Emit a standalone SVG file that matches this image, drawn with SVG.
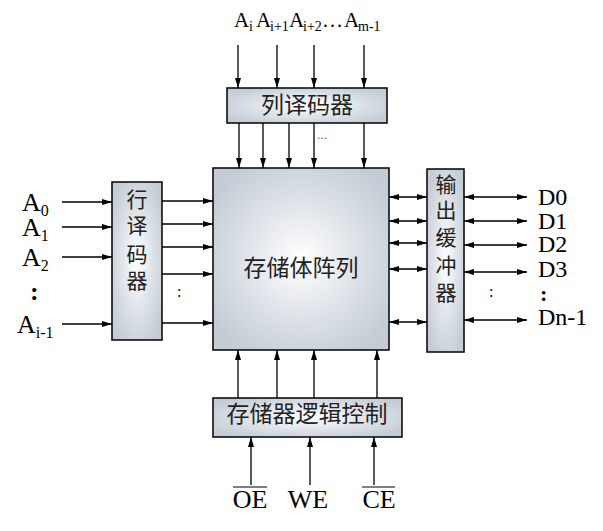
<svg xmlns="http://www.w3.org/2000/svg" width="603" height="531" viewBox="0 0 603 531">
<style>
.box{stroke:#000;stroke-width:1.5;fill:url(#g)}
.ln{stroke:#000;stroke-width:1.3;fill:none}
.a{marker-end:url(#ah)}
.b{marker-end:url(#ah);marker-start:url(#ah2)}
.cn{font-family:"Noto Sans CJK SC","Noto Sans CJK JP",serif;fill:#222;text-anchor:middle}
.lt{font-family:"Liberation Serif",serif;fill:#000}
.tA{font-family:"Liberation Serif",serif;font-size:21px;fill:#000}
.tS{font-family:"Liberation Serif",serif;font-size:14px;fill:#000}
.tD{font-family:"Liberation Serif",serif;font-size:24px;fill:#000}
</style>
<defs>
<radialGradient id="g" cx="0.5" cy="0.5" r="0.6">
<stop offset="0" stop-color="#ffffff"/>
<stop offset="0.55" stop-color="#dde2e8"/>
<stop offset="1" stop-color="#c5ccd5"/>
</radialGradient>
<marker id="ah" viewBox="0 0 10 6" refX="10" refY="3" markerWidth="10" markerHeight="6" markerUnits="userSpaceOnUse" orient="auto">
<path d="M0,0 L10,3 L0,6 Z" fill="#000"/>
</marker>
<marker id="ah2" viewBox="0 0 10 6" refX="0" refY="3" markerWidth="10" markerHeight="6" markerUnits="userSpaceOnUse" orient="auto">
<path d="M10,0 L0,3 L10,6 Z" fill="#000"/>
</marker>
</defs>

<g id="connectors">
<line class="ln a" x1="238" y1="45" x2="238" y2="88"/>
<line class="ln a" x1="277" y1="45" x2="277" y2="88"/>
<line class="ln a" x1="314" y1="45" x2="314" y2="88"/>
<line class="ln a" x1="364" y1="45" x2="364" y2="88"/>
<line class="ln a" x1="239" y1="123" x2="239" y2="168"/>
<line class="ln a" x1="263" y1="123" x2="263" y2="168"/>
<line class="ln a" x1="289" y1="123" x2="289" y2="168"/>
<line class="ln a" x1="314" y1="123" x2="314" y2="168"/>
<line class="ln a" x1="364" y1="123" x2="364" y2="168"/>
<line class="ln a" x1="62" y1="202" x2="112" y2="202"/>
<line class="ln a" x1="62" y1="227" x2="112" y2="227"/>
<line class="ln a" x1="62" y1="257" x2="112" y2="257"/>
<line class="ln a" x1="62" y1="324" x2="112" y2="324"/>
<line class="ln a" x1="162" y1="201" x2="213" y2="201"/>
<line class="ln a" x1="162" y1="224" x2="213" y2="224"/>
<line class="ln a" x1="162" y1="247" x2="213" y2="247"/>
<line class="ln a" x1="162" y1="274" x2="213" y2="274"/>
<line class="ln a" x1="162" y1="323" x2="213" y2="323"/>
<line class="ln b" x1="389" y1="197" x2="427" y2="197"/>
<line class="ln b" x1="389" y1="221" x2="427" y2="221"/>
<line class="ln b" x1="389" y1="243" x2="427" y2="243"/>
<line class="ln b" x1="389" y1="269" x2="427" y2="269"/>
<line class="ln b" x1="389" y1="322" x2="427" y2="322"/>
<line class="ln b" x1="464" y1="197" x2="527" y2="197"/>
<line class="ln b" x1="464" y1="221" x2="527" y2="221"/>
<line class="ln b" x1="464" y1="245" x2="527" y2="245"/>
<line class="ln b" x1="464" y1="272" x2="527" y2="272"/>
<line class="ln b" x1="464" y1="320" x2="527" y2="320"/>
<line class="ln a" x1="238" y1="398" x2="238" y2="350"/>
<line class="ln a" x1="277" y1="398" x2="277" y2="350"/>
<line class="ln a" x1="314" y1="398" x2="314" y2="350"/>
<line class="ln a" x1="377" y1="398" x2="377" y2="350"/>
<line class="ln a" x1="251" y1="485" x2="251" y2="437"/>
<line class="ln a" x1="310" y1="485" x2="310" y2="437"/>
<line class="ln a" x1="374" y1="485" x2="374" y2="437"/>
</g>

<g id="col-decoder">
<rect class="box" x="227" y="88" width="160" height="35"/>
<text class="cn" x="307" y="113" font-size="23">列译码器</text>
</g>

<g id="row-decoder">
<rect class="box" x="112" y="182" width="50" height="158"/>
<text class="cn" x="137" y="207" font-size="21">行</text>
<text class="cn" x="137" y="233" font-size="21">译</text>
<text class="cn" x="137" y="262" font-size="21">码</text>
<text class="cn" x="137" y="288" font-size="21">器</text>
</g>

<g id="array">
<rect class="box" x="213" y="168" width="176" height="182"/>
<text class="cn" x="301" y="276" font-size="23">存储体阵列</text>
</g>

<g id="out-buffer">
<rect class="box" x="427" y="169" width="37" height="183"/>
<text class="cn" x="446" y="192" font-size="21">输</text>
<text class="cn" x="446" y="218" font-size="21">出</text>
<text class="cn" x="446" y="245" font-size="21">缓</text>
<text class="cn" x="446" y="273" font-size="21">冲</text>
<text class="cn" x="446" y="300" font-size="21">器</text>
</g>

<g id="control">
<rect class="box" x="213" y="398" width="189" height="39"/>
<text class="cn" x="307" y="422" font-size="23">存储器逻辑控制</text>
</g>

<g id="labels">
<text class="tA" x="234" y="27">A</text>
<text class="tS" x="249" y="31">i</text>
<text class="tA" x="256" y="27">A</text>
<text class="tS" x="270" y="31">i+1</text>
<text class="tA" x="289" y="27">A</text>
<text class="tS" x="303" y="31">i+2</text>
<text class="tA" x="322" y="27">…</text>
<text class="tA" x="344" y="27">A</text>
<text class="tS" x="358" y="31">m-1</text>
<text x="322" y="139" font-family="Liberation Sans,sans-serif" font-size="12" fill="#3a5a9a" text-anchor="middle">...</text>

<text class="lt" x="22" y="211" font-size="26">A<tspan font-size="16" dy="5">0</tspan></text>
<text class="lt" x="22" y="236" font-size="26">A<tspan font-size="16" dy="5">1</tspan></text>
<text class="lt" x="22" y="266" font-size="26">A<tspan font-size="16" dy="5">2</tspan></text>
<text class="lt" x="30" y="300" font-size="26" font-weight="bold">:</text>
<text class="lt" x="17" y="333" font-size="26">A<tspan font-size="16" dy="5">i-1</tspan></text>
<text class="lt" x="177" y="297" font-size="16">:</text>

<text class="lt" x="489" y="297" font-size="16">:</text>
<text class="tD" x="538" y="205">D0</text>
<text class="tD" x="538" y="229">D1</text>
<text class="tD" x="538" y="252">D2</text>
<text class="tD" x="538" y="277">D3</text>
<text class="lt" x="540" y="301" font-size="22" font-weight="bold">:</text>
<text class="tD" x="538" y="325">Dn-1</text>

<text class="lt" x="250" y="508" font-size="26" text-anchor="middle">OE</text>
<line x1="233" y1="487" x2="267" y2="487" stroke="#000" stroke-width="1"/>
<text class="lt" x="308" y="508" font-size="26" text-anchor="middle">WE</text>
<text class="lt" x="379" y="508" font-size="26" text-anchor="middle">CE</text>
<line x1="362" y1="487" x2="395" y2="487" stroke="#000" stroke-width="1"/>
</g>
</svg>
